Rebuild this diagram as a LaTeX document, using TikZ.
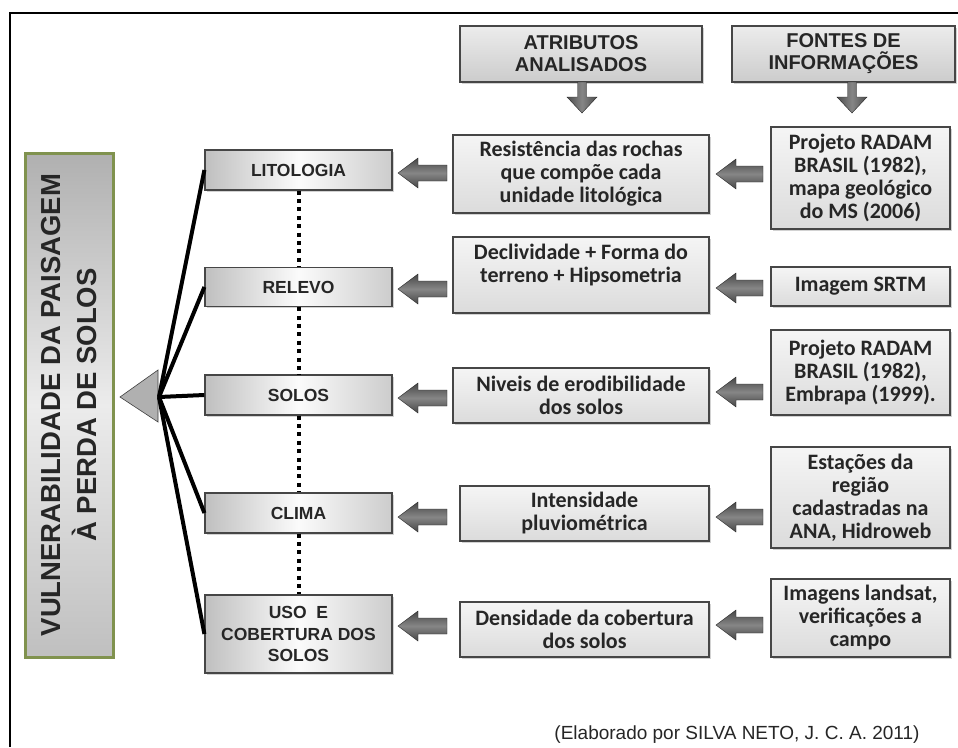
\documentclass[tikz,border=0pt]{standalone}
\usepackage{fontspec}
\setmainfont{Liberation Sans}
\newfontfamily\calib{Carlito}
\usetikzlibrary{shadows}
\begin{document}
\begin{tikzpicture}[x=1pt,y=-1pt,
  shad/.style={drop shadow={shadow xshift=1.8pt,shadow yshift=-1.8pt,opacity=0.35}},
  bigbox/.style={draw={rgb,255:red,128;green,146;blue,78}, line width=3pt, top color=gray!62, bottom color=gray!50, middle color=gray!15, rotate=90, inner sep=0pt, align=center, font=\fontsize{27.5}{36}\selectfont\bfseries, text=black!85, shad},
  catbox/.style={draw=gray!55!black, line width=1.2pt, left color=gray!50, right color=gray!40, middle color=gray!3, minimum width=187pt, inner sep=0pt, align=center, font=\fontsize{17.5}{21.5}\selectfont\bfseries, text=black!85, shad},
  attrbox/.style={draw=gray!55!black, line width=1.2pt, top color=gray!8, bottom color=gray!28, inner sep=0pt, align=center, font=\calib\fontsize{22}{23}\selectfont\bfseries, text=black!85, shad},
  headbox/.style={draw=gray!55!black, line width=1.2pt, top color=gray!15, bottom color=gray!40, inner sep=0pt, align=center, font=\fontsize{20}{22}\selectfont\bfseries, text=black!85, shad},
  spoke/.style={line width=4pt, black},
  dotline/.style={line width=4pt, black, dash pattern=on 4pt off 4.4pt},
  arrowfill/.style={top color=gray!55!black, bottom color=gray!55!black, middle color=gray!95, draw=gray!30!black, line width=0.4pt}
]
\newcommand\blockleft[3]{%
  \path[arrowfill] (#1,#3) -- (#1+20,#3-15) -- (#1+20,#3-8) -- (#2,#3-8) -- (#2,#3+8) -- (#1+20,#3+8) -- (#1+20,#3+15) -- cycle;}
\newcommand\blockdown[3]{%
  \path[arrowfill,left color=gray!60!black,right color=gray!60!black,middle color=gray!95] (#1-4.5,#2) -- (#1+4.5,#2) -- (#1+4.5,#3-16) -- (#1+15,#3-16) -- (#1,#3) -- (#1-15,#3-16) -- (#1-4.5,#3-16) -- cycle;}
\useasboundingbox (0,0) rectangle (958,747);
\fill[white] (0,0) rectangle (958,747);
% frame
\draw[line width=2.6pt] (10,747) -- (10,12.8) -- (958,12.8);

% headers
\node[headbox, minimum width=242pt, minimum height=56pt] (h1) at (581,54) {ATRIBUTOS\\ANALISADOS};
\node[headbox, minimum width=223pt, minimum height=56pt] (h2) at (843.5,54) {FONTES DE\\INFORMAÇÕES};
\blockdown{582}{82}{113}
\blockdown{852}{82}{113}

% left main box
\node[bigbox, minimum width=504pt, minimum height=88pt] (vul) at (69,405) {VULNERABILIDADE DA PAISAGEM\\À PERDA DE SOLOS};

% hub triangle
\filldraw[fill=gray!62, draw=gray!50!black, line width=0.6pt] (120,397) -- (158,370) -- (158,422) -- cycle;
\coordinate (hub) at (159,397);

% category boxes
\node[catbox, minimum height=40pt] (lit) at (298.5,170) {LITOLOGIA};
\node[catbox, minimum height=39pt] (rel) at (298.5,287) {RELEVO};
\node[catbox, minimum height=40pt] (sol) at (298.5,395) {SOLOS};
\node[catbox, minimum height=40pt] (cli) at (298.5,513) {CLIMA};
\node[catbox, minimum height=78pt] (uso) at (298.5,634) {USO\ \ E\\COBERTURA DOS\\SOLOS};

% spokes
\draw[spoke] (hub) -- (lit.west);
\draw[spoke] (hub) -- (rel.west);
\draw[spoke] (hub) -- (sol.west);
\draw[spoke] (hub) -- (cli.west);
\draw[spoke] (hub) -- (uso.west);

% dotted links
\draw[dotline] (lit.south) -- (rel.north);
\draw[dotline] (rel.south) -- (sol.north);
\draw[dotline] (sol.south) -- (cli.north);
\draw[dotline] (cli.south) -- (uso.north);

% attribute boxes
\node[attrbox, minimum width=256pt, minimum height=78pt] (a1) at (581,174) {Resistência das rochas\\que compõe cada\\unidade litológica};
\node[attrbox, minimum width=256pt, minimum height=76pt] (a2) at (581,275) {Declividade + Forma do\\terreno + Hipsometria\\~};
\node[attrbox, minimum width=256pt, minimum height=55pt] (a3) at (581,395.5) {Niveis de erodibilidade\\dos solos};
\node[attrbox, minimum width=249pt, minimum height=55pt] (a4) at (584.5,513.5) {Intensidade\\pluviométrica};
\node[attrbox, minimum width=249pt, minimum height=55pt] (a5) at (584.5,629.5) {Densidade da cobertura\\dos solos};

% source boxes
\node[attrbox, minimum width=179pt, minimum height=102pt] (s1) at (860.5,178) {Projeto RADAM\\BRASIL (1982),\\mapa geológico\\do MS (2006)};
\node[attrbox, minimum width=179pt, minimum height=39pt] (s2) at (860.5,286.5) {Imagem SRTM};
\node[attrbox, minimum width=179pt, minimum height=85pt] (s3) at (860.5,372.5) {Projeto RADAM\\BRASIL (1982),\\Embrapa (1999).};
\node[attrbox, minimum width=179pt, minimum height=101pt] (s4) at (860.5,497.5) {Estações da\\região\\cadastradas na\\ANA, Hidroweb};
\node[attrbox, minimum width=179pt, minimum height=78pt] (s5) at (860.5,618) {Imagens landsat,\\verificações a\\campo};

% block arrows category <- attribute
\blockleft{398}{447}{173}
\blockleft{398}{447}{289}
\blockleft{398}{447}{398}
\blockleft{398}{447}{517}
\blockleft{398}{447}{626}
% block arrows attribute <- source
\blockleft{716}{763}{174}
\blockleft{716}{763}{288}
\blockleft{716}{763}{392}
\blockleft{716}{763}{517}
\blockleft{716}{763}{625}

% footer
\node[font=\fontsize{19}{22}\selectfont, text=black!85, inner sep=0pt] (foot) at (737,735) {(Elaborado por SILVA NETO, J. C. A. 2011)};
\end{tikzpicture}
\end{document}
